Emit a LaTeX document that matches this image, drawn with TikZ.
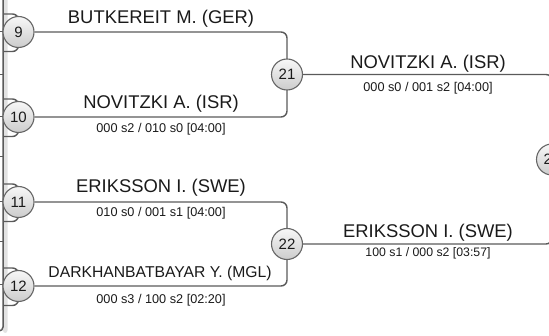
\documentclass[tikz,border=0pt]{standalone}
\usepackage{fontspec}
\setmainfont{Liberation Sans}
\definecolor{lc}{HTML}{5A5A5A}
\definecolor{cc}{HTML}{666666}
\definecolor{tc}{HTML}{1A1A1A}
\definecolor{strip}{HTML}{E2E2E2}
\begin{document}
\begin{tikzpicture}[x=1pt,y=-1pt,
  line/.style={draw=lc, line width=1.4pt, rounded corners=6pt},
  seed/.style={circle, draw=cc, line width=1.1pt, minimum size=31pt, inner sep=0pt,
    top color=white!97!black, bottom color=white!80!black, text=tc,
    font=\fontsize{15}{15}\selectfont},
  pname/.style={anchor=base, inner sep=0pt, text=tc, font=\fontsize{18.4}{18}\selectfont},
  score/.style={anchor=base, inner sep=0pt, text=tc, font=\fontsize{12.7}{13}\selectfont}]
\useasboundingbox (0,0) rectangle (549,336);
\clip (0,0) rectangle (549,336);
% left panel edge
\fill[strip, rounded corners=2.5pt] (3,-5) rectangle (7.5,333);
\draw[lc, line width=1.5pt, rounded corners=4pt] (3,-5) -- (3,331) -- (-5,331);
\foreach \t in {32,75,117,157,202,242,285}
  \draw[lc, line width=1pt] (0,\t) -- (3,\t);
% previous-round connectors behind first-column circles
\foreach \yy in {32,117,202,286}{
  \draw[line] (3,\yy-18) -- (18.5,\yy-18) -- (18.5,\yy);
  \draw[line] (3,\yy+19.5) -- (18.5,\yy+19.5) -- (18.5,\yy);
}
% circles
\node[seed] (c9)  at (18.5,32)  {9};
\node[seed] (c10) at (18.5,117) {10};
\node[seed] (c11) at (18.5,202) {11};
\node[seed] (c12) at (18.5,286) {12};
\coordinate (k9)  at (287,32);
\coordinate (k10) at (287,117);
\coordinate (k11) at (287,202);
\coordinate (k12) at (287,286);
\coordinate (k21) at (552,74.5);
\coordinate (k22) at (552,244);
\draw[line] (c9.east) -- (k9) -- (287,60);
\draw[line] (c10.east) -- (k10) -- (287,90);
\draw[line] (c11.east) -- (k11) -- (287,230);
\draw[line] (c12.east) -- (k12) -- (287,260);
\draw[line] (287,74.5) -- (k21) -- (552,150);
\draw[line] (287,244) -- (k22) -- (552,170);
\node[seed] (c21) at (287,74.5) {21};
\node[seed] (c22) at (287,244) {22};
\node[seed] (c23) at (552,159.5) {23};
% labels
\node[pname] (n9) at (161,24) {BUTKEREIT M. (GER)};
\node[pname] (n10) at (161,108.5) {NOVITZKI A. (ISR)};
\node[score] (s10) at (161,133) {000 s2 / 010 s0 [04:00]};
\node[pname] (n11) at (161,193) {ERIKSSON I. (SWE)};
\node[score] (s11) at (161,216.7) {010 s0 / 001 s1 [04:00]};
\node[pname, font=\fontsize{15.7}{16}\selectfont] (n12) at (160,277.3) {DARKHANBATBAYAR Y. (MGL)};
\node[score] (s12) at (161,303.3) {000 s3 / 100 s2 [02:20]};
\node[pname] (n21) at (428,68.3) {NOVITZKI A. (ISR)};
\node[score] (s21) at (428,91.7) {000 s0 / 001 s2 [04:00]};
\node[pname] (n22) at (428,237.7) {ERIKSSON I. (SWE)};
\node[score, font=\fontsize{12.3}{13}\selectfont] (s22) at (428,256.7) {100 s1 / 000 s2 [03:57]};
\end{tikzpicture}
\end{document}
